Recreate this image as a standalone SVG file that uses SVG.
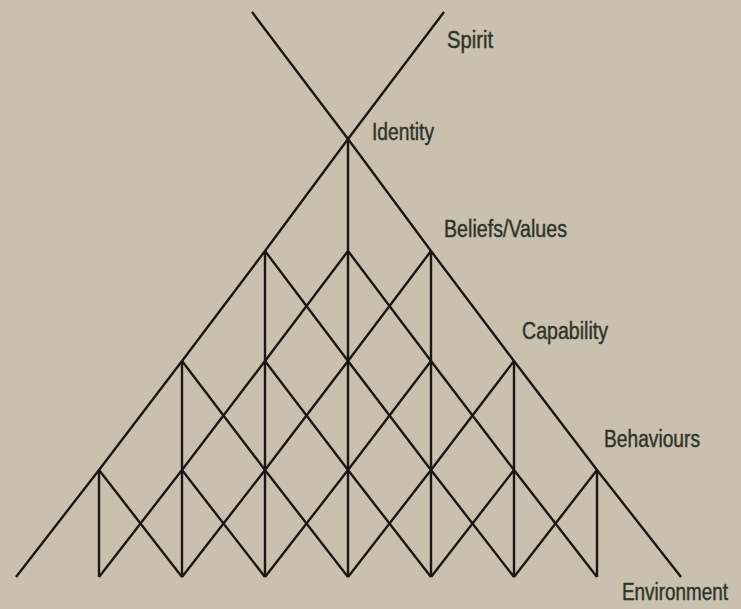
<svg xmlns="http://www.w3.org/2000/svg" width="741" height="609" viewBox="0 0 741 609">
<style>
.ln{fill:none;stroke:#1c1712;stroke-width:2.4;stroke-linejoin:miter;stroke-linecap:butt}
.lb{font-family:"Liberation Sans",Arial,sans-serif;font-size:23px;fill:#30352a;stroke:#30352a;stroke-width:0.45}
</style>
<rect width="741" height="609" fill="#c9c0af"/>
<g id="connectors">
<polyline class="ln" points="252,12 348,139 431,251 514,361 597,470 681,577"/>
<polyline class="ln" points="444,12 348,139 265,251 182,361 99,470 16,577"/>
<line class="ln" x1="348" y1="139" x2="348" y2="577"/>
<line class="ln" x1="265" y1="251" x2="265" y2="577"/>
<line class="ln" x1="431" y1="251" x2="431" y2="577"/>
<line class="ln" x1="182" y1="361" x2="182" y2="577"/>
<line class="ln" x1="514" y1="361" x2="514" y2="577"/>
<line class="ln" x1="99" y1="470" x2="99" y2="577"/>
<line class="ln" x1="597" y1="470" x2="597" y2="577"/>
<polyline class="ln" points="348,251 431,361 514,470 597,577"/>
<polyline class="ln" points="265,251 348,361 431,470 514,577"/>
<polyline class="ln" points="265,361 348,470 431,577"/>
<polyline class="ln" points="182,361 265,470 348,577"/>
<polyline class="ln" points="182,470 265,577"/>
<polyline class="ln" points="99,470 182,577"/>
<polyline class="ln" points="348,251 265,361 182,470 99,577"/>
<polyline class="ln" points="431,251 348,361 265,470 182,577"/>
<polyline class="ln" points="431,361 348,470 265,577"/>
<polyline class="ln" points="514,361 431,470 348,577"/>
<polyline class="ln" points="514,470 431,577"/>
<polyline class="ln" points="597,470 514,577"/>
</g>
<g id="spirit"><text class="lb" x="447" y="48" textLength="46" lengthAdjust="spacingAndGlyphs">Spirit</text></g>
<g id="identity"><text class="lb" x="372" y="140" textLength="62" lengthAdjust="spacingAndGlyphs">Identity</text></g>
<g id="beliefs"><text class="lb" x="444" y="237" textLength="123" lengthAdjust="spacingAndGlyphs">Beliefs/Values</text></g>
<g id="capability"><text class="lb" x="522" y="339" textLength="86" lengthAdjust="spacingAndGlyphs">Capability</text></g>
<g id="behaviours"><text class="lb" x="604" y="447" textLength="96" lengthAdjust="spacingAndGlyphs">Behaviours</text></g>
<g id="environment"><text class="lb" x="728" y="600" text-anchor="end" textLength="106" lengthAdjust="spacingAndGlyphs">Environment</text></g>
</svg>
